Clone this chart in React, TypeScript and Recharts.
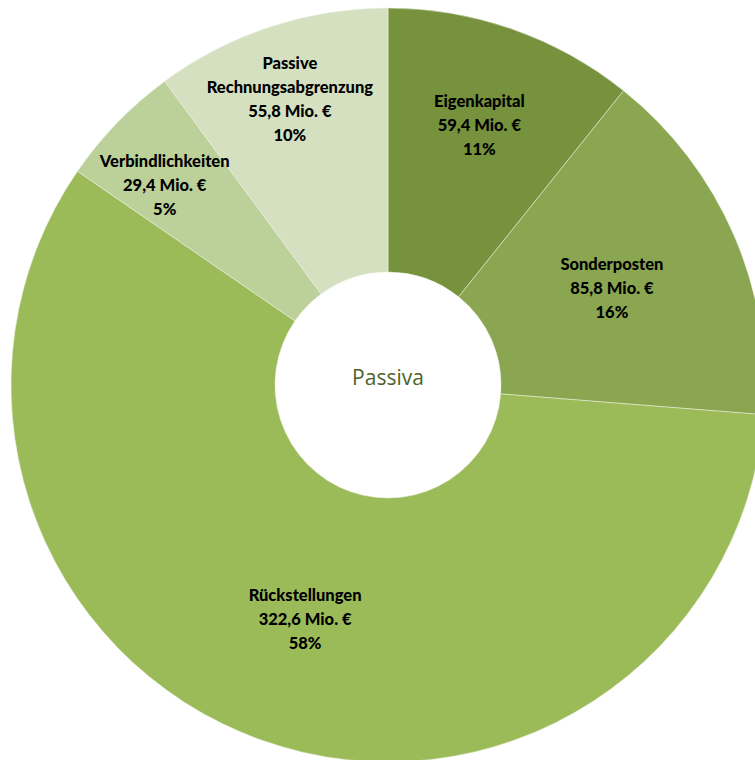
import React from "react";
import { PieChart, Pie, Cell } from "recharts";

const categories = ["Eigenkapital", "Sonderposten", "Rückstellungen", "Verbindlichkeiten", "Passive Rechnungsabgrenzung"];
const labelLines = [["Eigenkapital"], ["Sonderposten"], ["Rückstellungen"], ["Verbindlichkeiten"], ["Passive", "Rechnungsabgrenzung"]];
const valuesMio = [59.4, 85.8, 322.6, 29.4, 55.8];
const valueLabels = ["59,4 Mio. €", "85,8 Mio. €", "322,6 Mio. €", "29,4 Mio. €", "55,8 Mio. €"];
const percentLabels = ["11%", "16%", "58%", "5%", "10%"];
const colors = ["#76923C", "#8AA650", "#9BBB59", "#BCD09A", "#D4E0C0"];
const centerTitle = "Passiva";

const data = categories.map((name, i) => ({ name, value: valuesMio[i], idx: i }));

const LABEL_RADIUS = [276, 244, 248, 300, 302];
const LABEL_ANGLE_SHIFT = [0, 0, 0, 2.2, 0.8];
const RAD = Math.PI / 180;

const renderLabel = (props: any) => {
  const { cx, cy, midAngle, index } = props;
  const r = LABEL_RADIUS[index];
  const a = midAngle + LABEL_ANGLE_SHIFT[index];
  const x = cx + r * Math.cos(-a * RAD);
  const y = cy + r * Math.sin(-a * RAD);
  const lines = [...labelLines[index], valueLabels[index], percentLabels[index]];
  const lh = 24;
  const startY = y - ((lines.length - 1) * lh) / 2;
  return (
    <text
      x={x}
      y={startY}
      textAnchor="middle"
      dominantBaseline="central"
      fill="#000"
      fontFamily="Lato, 'Open Sans', sans-serif"
      fontWeight={900}
      fontSize={16.5}
    >
      {lines.map((l, i) => (
        <tspan key={i} x={x} y={startY + i * lh}>
          {l}
        </tspan>
      ))}
    </text>
  );
};

export default function App() {
  return (
    <div style={{ position: "absolute", left: 0, top: 0, width: 755, height: 760, background: "#fff", overflow: "hidden" }}>
      <PieChart width={755} height={760} margin={{ top: 0, right: 0, bottom: 0, left: 0 }}>
        <Pie
          data={data}
          dataKey="value"
          nameKey="name"
          cx={388}
          cy={385}
          innerRadius={113}
          outerRadius={377}
          startAngle={90}
          endAngle={-270}
          stroke="#eef2e6"
          strokeWidth={0.5}
          label={renderLabel}
          labelLine={false}
          isAnimationActive={false}
        >
          {data.map((d, i) => (
            <Cell key={d.name} fill={colors[i]} />
          ))}
        </Pie>
        <text
          x={388}
          y={377}
          textAnchor="middle"
          dominantBaseline="central"
          fill="#4F6228"
          fontFamily="'Open Sans', Lato, sans-serif"
          fontSize={21}
        >
          {centerTitle}
        </text>
      </PieChart>
    </div>
  );
}
